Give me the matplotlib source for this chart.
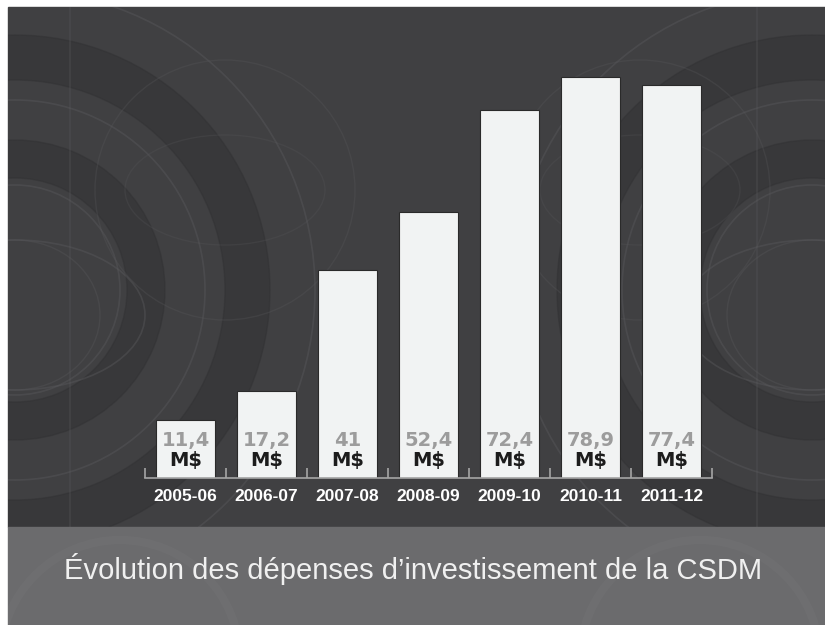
import matplotlib
matplotlib.use("Agg")
import matplotlib.pyplot as plt
from matplotlib.patches import Rectangle, Wedge, Ellipse, Circle

# data
years = ['2005-06', '2006-07', '2007-08', '2008-09', '2009-10', '2010-11', '2011-12']
values = [11.4, 17.2, 41, 52.4, 72.4, 78.9, 77.4]
value_labels = ['11,4', '17,2', '41', '52,4', '72,4', '78,9', '77,4']
title = 'Évolution des dépenses d’investissement de la CSDM'

narrow = ['Liberation Sans Narrow', 'Liberation Sans', 'DejaVu Sans']

W, H = 825, 625
fig = plt.figure(figsize=(W / 100, H / 100), dpi=100, facecolor='white')

# background drawn in pixel coordinates
bg = fig.add_axes([0, 0, 1, 1])
bg.set_xlim(0, W)
bg.set_ylim(H, 0)
bg.axis('off')
top = Rectangle((8, 7), W - 8, 520, color='#404042', zorder=0)
bg.add_patch(top)
band = Rectangle((8, 527), W - 8, H - 527, color='#6b6b6d', zorder=2)
bg.add_patch(band)

# decorative globes left and right
dark = '#303032'
line = '#58585b'
deco = []
for cx, cy in [(15, 290), (812, 290)]:
    for r, w in [(150, 38), (255, 45)]:
        deco.append(Wedge((cx, cy), r, 0, 360, width=w, color=dark, alpha=0.45, zorder=1))
    for r in [105, 190, 300]:
        deco.append(Circle((cx, cy), r, fill=False, ec=line, lw=1.2, alpha=0.45, zorder=1))
    deco.append(Ellipse((cx, cy + 25), 260, 150, fill=False, ec=line, lw=1.2, alpha=0.45, zorder=1))
    deco.append(Ellipse((cx, cy + 25), 170, 150, fill=False, ec=line, lw=1.0, alpha=0.35, zorder=1))
for cx, cy in [(225, 190), (640, 190)]:
    deco.append(Circle((cx, cy), 130, fill=False, ec=line, lw=1.0, alpha=0.3, zorder=1))
    deco.append(Ellipse((cx, cy), 200, 110, fill=False, ec=line, lw=1.0, alpha=0.25, zorder=1))
for p in deco:
    bg.add_patch(p)
    p.set_clip_path(top)
for lx in [70, 757]:
    ln, = bg.plot([lx, lx], [7, 527], color=line, lw=1.2, alpha=0.35, zorder=1)
    ln.set_clip_path(top)

# faint arcs in the bottom band
for cx in [120, 700]:
    c = Circle((cx, 660), 120, fill=False, ec='#767678', lw=6, alpha=0.3, zorder=2)
    bg.add_patch(c)
    c.set_clip_path(band)
bg.text(413, 569, title, ha='center', va='center', color='#f0f0f0',
        fontsize=21, family=narrow, zorder=3)

# chart axes
ax = fig.add_axes([145 / W, (H - 478) / H, 567 / W, 80 * 5.08 / H])
ax.patch.set_alpha(0)
x = list(range(len(years)))
ax.bar(x, values, width=0.73, color='#f1f3f3', edgecolor='#2a2a2a', linewidth=0.8, zorder=2)
ax.set_xlim(-0.5, 6.5)
ax.set_ylim(0, 80)
for s in ['top', 'left', 'right']:
    ax.spines[s].set_visible(False)
ax.spines['bottom'].set_color('#a5a5a5')
ax.spines['bottom'].set_linewidth(1.2)
ax.spines['bottom'].set_zorder(3)
ax.set_yticks([])
ax.set_xticks(x)
ax.set_xticklabels(years, color='white', fontsize=12.5, fontweight='bold', family=narrow)
ax.tick_params(axis='x', which='major', length=0, pad=8)
ax.set_xticks([i - 0.5 for i in range(len(years) + 1)], minor=True)
ax.tick_params(axis='x', which='minor', direction='in', length=7.5, width=1.2, color='#a5a5a5')

for i, lab in enumerate(value_labels):
    ax.text(i, 7.4, lab, ha='center', va='center', color='#9c9c9c',
            fontsize=14, fontweight='bold', zorder=4)
    ax.text(i, 3.5, 'M$', ha='center', va='center', color='#1c1c1c',
            fontsize=14, fontweight='bold', zorder=4)

fig.savefig('out.png', dpi=100, facecolor=fig.get_facecolor())
